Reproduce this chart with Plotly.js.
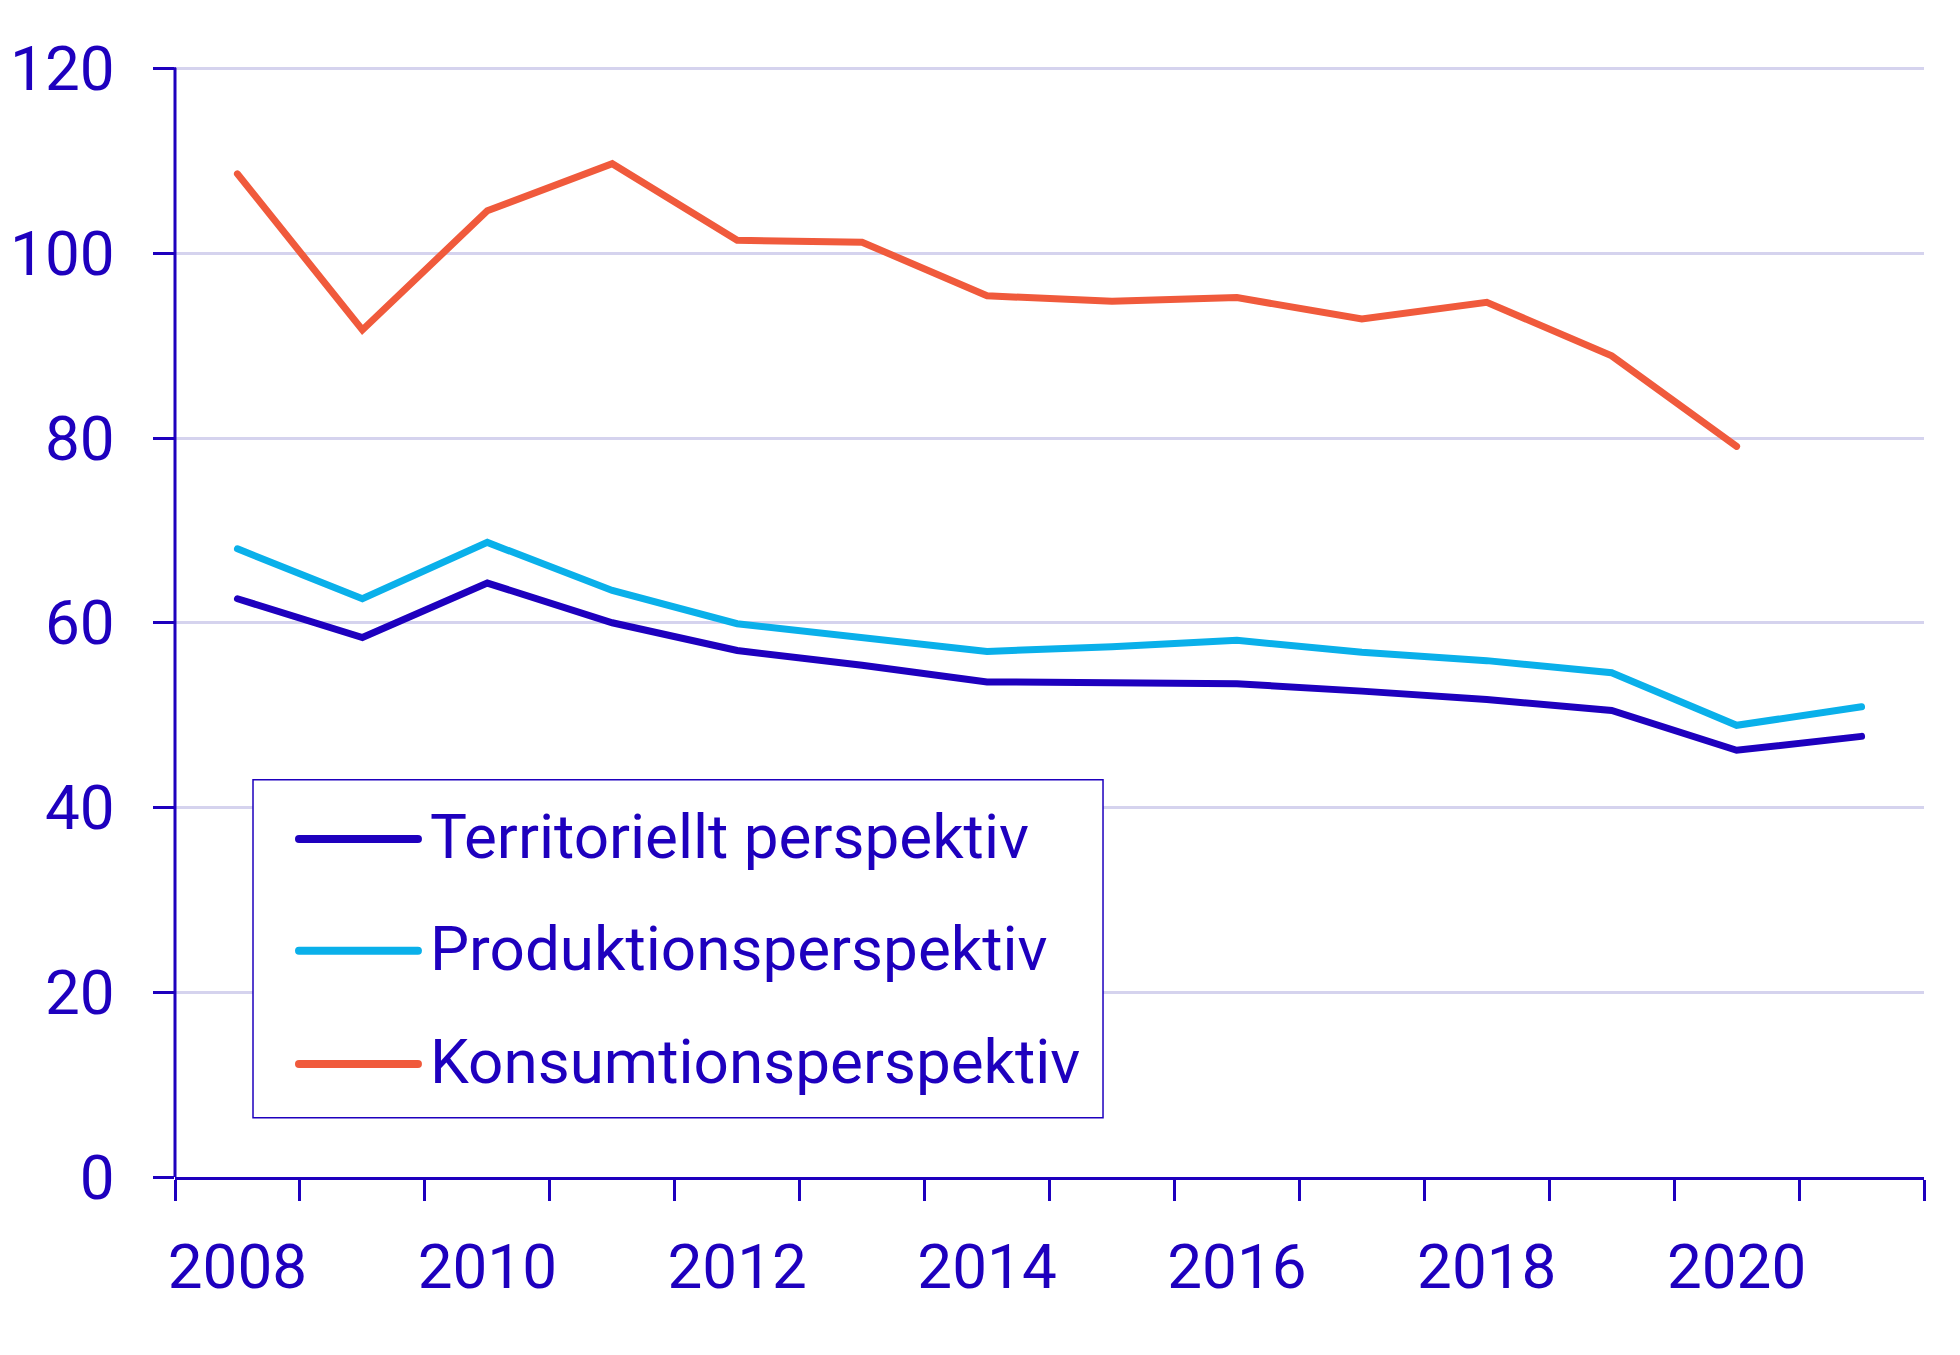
<!DOCTYPE html>
<html>
<head>
<meta charset="utf-8">
<script src="https://cdn.plot.ly/plotly-3.0.1.min.js"></script>
<style>
  html, body { margin: 0; padding: 0; background: #ffffff; }
  #chart { width: 1960px; height: 1355px; }
  .js-line { stroke-linecap: round; }
  .shapelayer path { stroke-linecap: round; }
</style>
</head>
<body>
<div id="chart"></div>
<script>
// ---- data ----
const years = [2008, 2009, 2010, 2011, 2012, 2013, 2014, 2015, 2016, 2017, 2018, 2019, 2020, 2021];
const territoriellt = [62.6, 58.4, 64.3, 60.0, 57.0, 55.4, 53.6, 53.5, 53.4, 52.6, 51.7, 50.5, 46.2, 47.7];
const produktion = [68.0, 62.6, 68.7, 63.5, 59.9, 58.4, 56.9, 57.4, 58.1, 56.8, 55.9, 54.6, 48.9, 50.9];
const konsumtion = [108.6, 91.7, 104.6, 109.7, 101.4, 101.2, 95.4, 94.8, 95.2, 92.9, 94.7, 88.9, 79.1, null];
const seriesNames = ["Territoriellt perspektiv", "Produktionsperspektiv", "Konsumtionsperspektiv"];
const xTickVals = [2008, 2010, 2012, 2014, 2016, 2018, 2020];
const xTickText = ["2008", "2010", "2012", "2014", "2016", "2018", "2020"];
const yTickVals = [0, 20, 40, 60, 80, 100, 120];

// ---- style ----
const navy = "#1e00be";
const cyan = "#0ab0ea";
const orange = "#f05a3c";
const gridCol = "#d5d3ee";
const font = "Roboto, 'Noto Sans', sans-serif";
const fsize = 62;
const colors = [navy, cyan, orange];
const seriesData = [territoriellt, produktion, konsumtion];
const yMax = yTickVals[yTickVals.length - 1];

const traces = seriesData.map((vals, i) => ({
  type: "scatter",
  mode: "lines",
  x: years,
  y: vals,
  name: seriesNames[i],
  line: { color: colors[i], width: 7 },
  connectgaps: false,
  showlegend: false,
  hoverinfo: "x+y+name"
}));

// y axis line drawn only up to the top tick
const shapes = [{
  type: "line", xref: "paper", yref: "y",
  x0: 0, x1: 0, y0: 0, y1: yMax,
  line: { color: navy, width: 3 }, layer: "above"
}];

// custom legend (box, line samples, labels) in paper coordinates
const legBox = { x0: 0.0446, x1: 0.5306, y0: 0.0532, y1: 0.3565 };
const legRows = [0.3035, 0.2030, 0.1015];
shapes.push({
  type: "rect", xref: "paper", yref: "paper",
  x0: legBox.x0, x1: legBox.x1, y0: legBox.y0, y1: legBox.y1,
  line: { color: navy, width: 1.5 }, fillcolor: "#ffffff", layer: "above"
});
const annotations = [];
seriesNames.forEach((nm, i) => {
  shapes.push({
    type: "line", xref: "paper", yref: "paper",
    x0: 0.0709, x1: 0.1389, y0: legRows[i], y1: legRows[i],
    line: { color: colors[i], width: 8 }, layer: "above"
  });
  annotations.push({
    xref: "paper", yref: "paper", x: 0.1445, y: legRows[i] + 0.002,
    xanchor: "left", yanchor: "middle", showarrow: false,
    text: nm, font: { family: font, size: fsize, color: navy }
  });
});

const layout = {
  width: 1960,
  height: 1355,
  paper_bgcolor: "#ffffff",
  plot_bgcolor: "#ffffff",
  margin: { l: 175, r: 36, t: 63, b: 178 },
  font: { family: font, color: navy, size: fsize },
  showlegend: false,
  xaxis: {
    range: [2007.5, 2021.5],
    tickmode: "array",
    tickvals: xTickVals,
    ticktext: xTickText,
    ticks: "",
    showgrid: false,
    zeroline: false,
    showline: true,
    linecolor: navy,
    linewidth: 3,
    tickfont: { family: font, size: fsize, color: navy },
    ticklabelstandoff: 34,
    minor: {
      tickmode: "linear",
      tick0: 2007.5,
      dtick: 1,
      ticks: "outside",
      ticklen: 21,
      tickwidth: 3,
      tickcolor: navy,
      showgrid: false
    }
  },
  yaxis: {
    range: [0, 120.6],
    tickmode: "array",
    tickvals: yTickVals,
    ticks: "outside",
    ticklen: 21,
    tickwidth: 3,
    tickcolor: navy,
    showline: false,
    showgrid: true,
    gridcolor: gridCol,
    gridwidth: 3,
    zeroline: false,
    tickfont: { family: font, size: fsize, color: navy },
    ticklabelstandoff: 26
  },
  shapes: shapes,
  annotations: annotations
};

Plotly.newPlot("chart", traces, layout, { staticPlot: true, displayModeBar: false });
</script>
</body>
</html>
